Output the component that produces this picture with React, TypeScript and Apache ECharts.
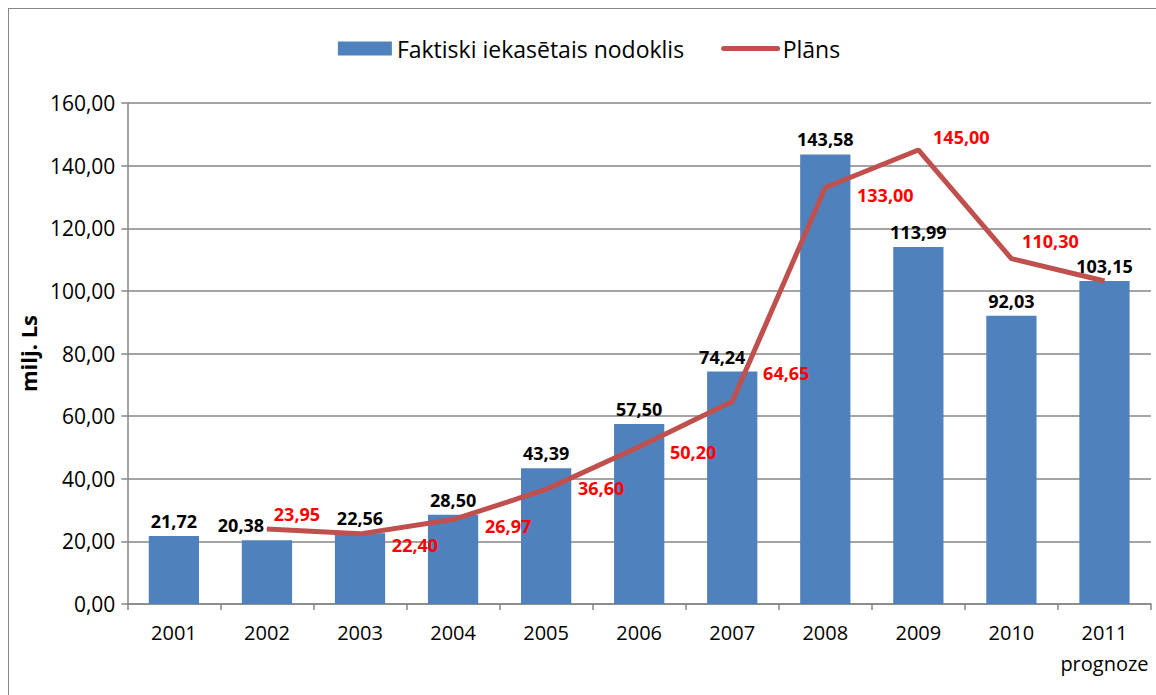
import React, { useEffect, useRef } from "react";
import * as echarts from "echarts";

const years = ["2001", "2002", "2003", "2004", "2005", "2006", "2007", "2008", "2009", "2010", "2011"];
const actual = [21.72, 20.38, 22.56, 28.5, 43.39, 57.5, 74.24, 143.58, 113.99, 92.03, 103.15];
const plan: (number | null)[] = [null, 23.95, 22.4, 26.97, 36.6, 50.2, 64.65, 133.0, 145.0, 110.3, 103.15];
const planLabelShown = [false, true, true, true, true, true, true, true, true, true, false];
const yTicks = { min: 0, max: 160, interval: 20 };
const seriesNames = ["Faktiski iekasētais nodoklis", "Plāns"];
const lastYearNote = "prognoze";
const yAxisTitle = "milj. Ls";

// label placement (style only)
const planLabelOffsets: [number, number][] = [
  [0, 0], [30, -15], [55, 11], [55, 6], [55, -1], [54, 5], [54, -29], [60, 7], [43, -13], [39, -18], [0, 0],
];
const barLabelOffsets: [number, number][] = [
  [0, 0], [-26, 0], [0, 0], [0, 0], [0, 0], [0, 0], [-10, 0], [0, 0], [0, 0], [0, 0], [0, 0],
];

const FONT = "'Open Sans', 'Noto Sans', sans-serif";
const fmt = (v: number) => v.toFixed(2).replace(".", ",");

export default function App() {
  const ref = useRef<HTMLDivElement>(null);
  useEffect(() => {
    if (!ref.current) return;
    const chart = echarts.init(ref.current, null, { renderer: "svg" });
    chart.setOption({
      animation: false,
      textStyle: { fontFamily: FONT },
      legend: {
        top: 23,
        left: "center",
        itemGap: 37,
        textStyle: { fontSize: 23, color: "#000", fontFamily: FONT },
        data: [
          { name: seriesNames[0], icon: "rect", itemStyle: { color: "#4F81BD" } },
          {
            name: seriesNames[1],
            itemStyle: { opacity: 0 },
            lineStyle: { color: "#C0504D", width: 5, cap: "round" },
          },
        ],
        itemWidth: 54,
        itemHeight: 14,
      },
      grid: { left: 117, right: 18, top: 94, bottom: 105 },
      xAxis: {
        type: "category",
        data: years,
        axisLine: { lineStyle: { color: "#868686", width: 1.5 } },
        axisTick: { show: true, length: 6, lineStyle: { color: "#868686", width: 1.5 } },
        axisLabel: {
          interval: 0,
          margin: 18,
          color: "#000",
          fontSize: 20,
          fontFamily: FONT,
          formatter: (v: string) => (v === years[years.length - 1] ? `${v}\n{p|${lastYearNote}}` : v),
          rich: { p: { fontSize: 20, fontFamily: FONT, color: "#000", lineHeight: 42 } },
        },
      },
      yAxis: {
        type: "value",
        min: yTicks.min,
        max: yTicks.max,
        interval: yTicks.interval,
        name: yAxisTitle,
        nameLocation: "middle",
        nameGap: 82,
        nameTextStyle: { fontSize: 22, fontWeight: "bold", color: "#000", fontFamily: FONT },
        axisLine: { show: true, lineStyle: { color: "#868686", width: 1.5 } },
        axisTick: { show: true, length: 6, lineStyle: { color: "#868686", width: 1.5 } },
        splitLine: { lineStyle: { color: "#868686", width: 1.5 } },
        axisLabel: { color: "#000", fontSize: 21, margin: 12, fontFamily: FONT, formatter: (v: number) => fmt(v) },
      },
      series: [
        {
          name: seriesNames[0],
          type: "bar",
          data: actual.map((v, i) => ({ value: v, label: { offset: barLabelOffsets[i] } })),
          barCategoryGap: "46%",
          itemStyle: { color: "#4F81BD" },
          label: {
            show: true,
            position: "top",
            distance: 6,
            color: "#000",
            fontWeight: "bold",
            fontSize: 18,
            fontFamily: FONT,
            formatter: (p: any) => fmt(p.value),
          },
        },
        {
          name: seriesNames[1],
          type: "line",
          data: plan.map((v, i) =>
            v == null
              ? null
              : {
                  value: v,
                  label: { show: planLabelShown[i], offset: planLabelOffsets[i] },
                }
          ),
          connectNulls: false,
          symbol: "circle",
          symbolSize: 1,
          showSymbol: true,
          lineStyle: { color: "#C0504D", width: 5 },
          itemStyle: { color: "#C0504D" },
          label: {
            show: true,
            position: "inside",
            color: "#FF0000",
            fontWeight: "bold",
            fontSize: 18,
            fontFamily: FONT,
            formatter: (p: any) => fmt(p.value),
          },
          z: 3,
        },
      ],
    });
    return () => chart.dispose();
  }, []);
  return (
    <div
      ref={ref}
      style={{
        position: "fixed",
        left: 8,
        top: 8,
        width: 1160,
        height: 700,
        border: "1px solid #868686",
        background: "#fff",
      }}
    />
  );
}
